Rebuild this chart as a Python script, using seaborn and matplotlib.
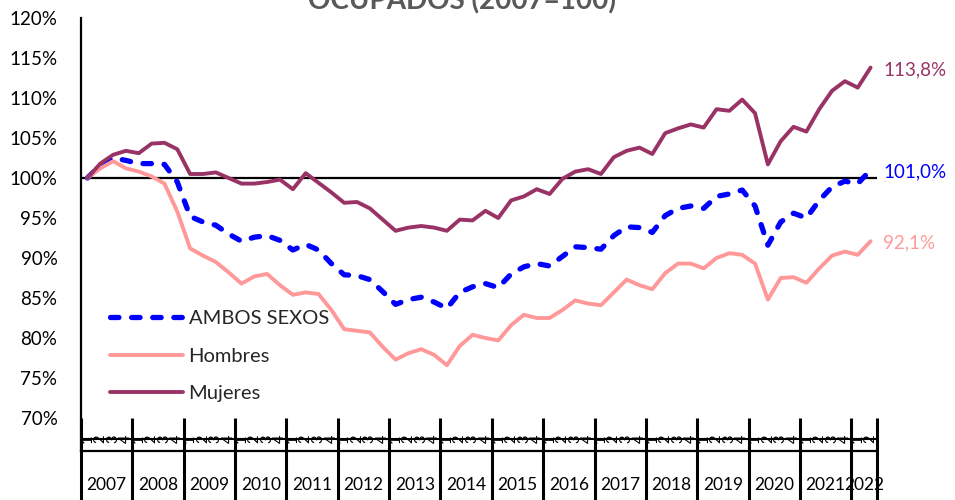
import matplotlib
matplotlib.use("Agg")
import matplotlib.pyplot as plt
import numpy as np
import pandas as pd
import seaborn as sns

# ---------------- data ----------------
years = [str(y) for y in range(2007, 2023)]
quarters_in_year = [4] * 15 + [2]
title = "OCUPADOS (2007=100)"
series_names = ["AMBOS SEXOS", "Hombres", "Mujeres"]
end_labels = ["101,0%", "92,1%", "113,8%"]
y_ticks = [70, 75, 80, 85, 90, 95, 100, 105, 110, 115, 120]

ambos = [100.0, 101.6, 102.5, 102.2, 101.8, 101.8, 101.7, 99.5,
         95.2, 94.5, 94.1, 93.0, 92.1, 92.6, 92.8, 92.2,
         91.0, 91.7, 91.0, 89.3, 87.9, 87.8, 87.3, 85.8,
         84.2, 84.8, 85.1, 84.5, 83.7, 85.7, 86.4, 86.8,
         86.3, 88.0, 88.9, 89.3, 89.0, 90.2, 91.4, 91.3,
         91.1, 92.8, 93.9, 93.8, 93.2, 95.3, 96.2, 96.5,
         96.2, 97.7, 98.0, 98.5, 96.5, 91.6, 94.5, 95.6,
         95.0, 97.2, 98.9, 99.6, 99.3, 101.0]

hombres = [100.0, 101.2, 102.1, 101.2, 100.8, 100.2, 99.3, 95.8,
           91.2, 90.3, 89.5, 88.2, 86.8, 87.7, 88.0, 86.6,
           85.4, 85.7, 85.5, 83.5, 81.1, 80.9, 80.7, 78.9,
           77.3, 78.1, 78.6, 77.9, 76.6, 79.0, 80.4, 80.0,
           79.7, 81.6, 82.9, 82.5, 82.5, 83.5, 84.7, 84.3,
           84.1, 85.7, 87.3, 86.6, 86.1, 88.1, 89.3, 89.3,
           88.7, 90.0, 90.6, 90.4, 89.3, 84.8, 87.5, 87.6,
           86.9, 88.7, 90.3, 90.8, 90.4, 92.1]

mujeres = [100.0, 101.8, 102.9, 103.4, 103.1, 104.3, 104.4, 103.6,
           100.5, 100.5, 100.7, 100.0, 99.3, 99.3, 99.5, 99.8,
           98.6, 100.6, 99.4, 98.2, 96.9, 97.0, 96.2, 94.8,
           93.4, 93.8, 94.0, 93.8, 93.4, 94.8, 94.7, 95.9,
           95.0, 97.2, 97.7, 98.6, 98.0, 99.9, 100.8, 101.1,
           100.5, 102.6, 103.4, 103.8, 103.0, 105.6, 106.2, 106.7,
           106.3, 108.6, 108.4, 109.8, 108.1, 101.7, 104.6, 106.4,
           105.8, 108.6, 110.9, 112.1, 111.3, 113.8]

# ---------------- styling ----------------
colors = {"AMBOS SEXOS": "#0000FF", "Hombres": "#FF9999", "Mujeres": "#993366"}

sns.set_theme(style="white")
plt.rcParams["font.family"] = ["Lato", "DejaVu Sans"]

df = pd.DataFrame({"q": np.arange(len(ambos)),
                   "AMBOS SEXOS": ambos, "Hombres": hombres, "Mujeres": mujeres})

fig = plt.figure(figsize=(9.55, 5), dpi=100)
ax = fig.add_axes([81 / 955, 49 / 500, 796 / 955, 433 / 500])

ax.axhline(100, color="black", lw=1.6, zorder=1.5)

sns.lineplot(data=df, x="q", y="AMBOS SEXOS", ax=ax, color=colors["AMBOS SEXOS"],
             lw=3.8, linestyle=(0, (1.6, 2.4)), dash_capstyle="round",
             label="AMBOS SEXOS", zorder=3)
sns.lineplot(data=df, x="q", y="Hombres", ax=ax, color=colors["Hombres"],
             lw=2.8, label="Hombres", zorder=3)
sns.lineplot(data=df, x="q", y="Mujeres", ax=ax, color=colors["Mujeres"],
             lw=2.8, label="Mujeres", zorder=4)

n = len(ambos)
ax.set_xlim(-0.5, n - 0.5)
ymin = 65.875
ax.set_ylim(ymin, 120)
ax.set_xlabel("")
ax.set_ylabel("")

ax.set_yticks(y_ticks)
ax.set_yticklabels([f"{v}%" for v in y_ticks])
ax.tick_params(axis="y", length=0, pad=17, labelsize=13.5, labelcolor="black")

for s in ["top", "right"]:
    ax.spines[s].set_visible(False)
for s in ["left", "bottom"]:
    ax.spines[s].set_color("black")
    ax.spines[s].set_linewidth(1.6)

# category axis: quarters + years
bounds = [-0.5]
for k in quarters_in_year:
    bounds.append(bounds[-1] + k)
quarter_ticks = []
for i, k in enumerate(quarters_in_year):
    for j in range(1, k):
        quarter_ticks.append(bounds[i] + j)
ax.set_xticks(quarter_ticks)
ax.set_xticklabels([])
ax.tick_params(axis="x", length=8, width=1.2, direction="inout", color="black")

y_bottom = ymin - 49 / 8
for b in bounds:
    ax.plot([b, b], [70, y_bottom], color="black", lw=2.2, clip_on=False,
            solid_capstyle="butt", zorder=5)

ax.axhline(67.4, color="black", lw=1.5, zorder=2)

pos = 0
for i, k in enumerate(quarters_in_year):
    for j in range(k):
        ax.text(pos, 67.4, str(j + 1), rotation=90, ha="center", va="center",
                fontsize=10.5, color="black", zorder=6)
        pos += 1
    ax.text((bounds[i] + bounds[i + 1]) / 2, 61.6, years[i], ha="center",
            va="center", fontsize=12.5, color="black", clip_on=False)

# end labels
for name, lab in zip(series_names, end_labels):
    ax.annotate(lab, xy=(n - 1, df[name].iloc[-1]), xytext=(9, -1.5),
                textcoords="offset points", ha="left", va="center",
                fontsize=13.5, color=colors[name], annotation_clip=False)

# legend
ax.legend(loc="center left", bbox_to_anchor=((110 - 81) / 796, (451 - 356) / 433),
          frameon=False, borderpad=0, borderaxespad=0, handlelength=3.6,
          handletextpad=0.3, labelspacing=1.0, fontsize=14.5)

fig.text(0.484, 0.982, title, ha="center", va="baseline", fontsize=20,
         fontweight="bold", color="#595959")

fig.savefig("out.png", dpi=100)
